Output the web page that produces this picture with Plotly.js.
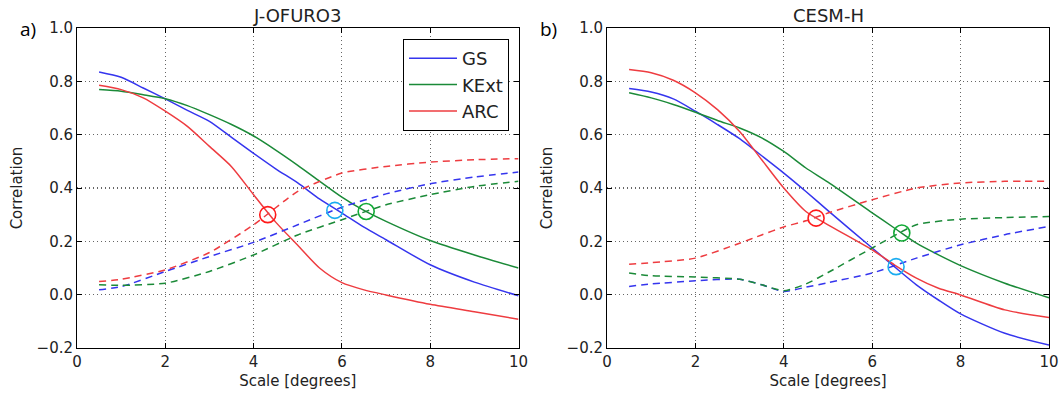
<!DOCTYPE html>
<html><head><meta charset="utf-8">
<script src="https://cdn.plot.ly/plotly-3.0.1.min.js"></script>
<style>html,body{margin:0;padding:0;background:#fff}#chart{width:1063px;height:393px}</style>
</head><body><div id="chart"></div>
<script>
// ---- Panel a) J-OFURO3 ----
const xA_solid = [0.5,1,1.5,2,2.5,3,3.5,4,4.5,5,5.5,6,6.5,7,8,9,10];
const gsA_solid = [0.835,0.815,0.775,0.734,0.691,0.65,0.59,0.53,0.472,0.419,0.358,0.306,0.253,0.206,0.112,0.047,-0.004];
const kextA_solid = [0.769,0.763,0.75,0.735,0.709,0.675,0.638,0.595,0.542,0.485,0.425,0.366,0.316,0.275,0.203,0.149,0.10];
const arcA_solid = [0.785,0.769,0.738,0.688,0.631,0.556,0.48,0.375,0.272,0.185,0.099,0.045,0.018,-0.001,-0.036,-0.064,-0.092];

const xA_dash = [0.5,1,2,3,4,5,6,7,8,9,10];
const gsA_dash = [0.018,0.03,0.087,0.143,0.196,0.262,0.328,0.378,0.416,0.441,0.46];
const kextA_dash = [0.037,0.035,0.043,0.087,0.149,0.224,0.281,0.337,0.375,0.406,0.425];
const arcA_dash = [0.049,0.058,0.093,0.158,0.262,0.387,0.456,0.481,0.497,0.506,0.51];

const circA_x = [4.32,5.84,6.55];
const circA_y = [0.30,0.316,0.312];

// ---- Panel b) CESM-H ----
const xB_solid = [0.5,1,1.5,2,2.5,3,3.5,4,4.5,5,6,6.5,7,7.5,8,9,10];
const gsB_solid = [0.773,0.76,0.734,0.688,0.638,0.585,0.521,0.456,0.387,0.315,0.175,0.105,0.037,-0.02,-0.072,-0.145,-0.189];
const kextB_solid = [0.757,0.738,0.713,0.684,0.653,0.625,0.588,0.537,0.475,0.422,0.307,0.25,0.193,0.149,0.109,0.043,-0.012];
const arcB_solid = [0.844,0.832,0.804,0.757,0.694,0.612,0.506,0.40,0.312,0.262,0.168,0.112,0.062,0.024,-0.001,-0.057,-0.086];

const xB_dash = [0.5,1,2,3,3.5,4,4.5,5,6,7,8,9,10];
const gsB_dash = [0.031,0.04,0.052,0.058,0.037,0.012,0.028,0.045,0.081,0.137,0.187,0.225,0.256];
const kextB_dash = [0.081,0.071,0.066,0.058,0.037,0.015,0.04,0.083,0.175,0.262,0.283,0.289,0.293];
const arcB_dash = [0.114,0.12,0.137,0.193,0.224,0.254,0.277,0.306,0.356,0.40,0.419,0.425,0.425];

const circB_x = [4.73,6.54,6.67];
const circB_y = [0.287,0.105,0.231];

const seriesNames = ['GS','KExt','ARC'];
const seriesColors = ['#3535ee','#1b8a38','#ee3c40'];
const circleColors = ['#ff1a1a','#1aacf0','#12aa36'];

const panels = [
  {xa:'x', ya:'y', xs:xA_solid, ys:[gsA_solid,kextA_solid,arcA_solid], xd:xA_dash, yd:[gsA_dash,kextA_dash,arcA_dash], cx:circA_x, cy:circA_y},
  {xa:'x2', ya:'y2', xs:xB_solid, ys:[gsB_solid,kextB_solid,arcB_solid], xd:xB_dash, yd:[gsB_dash,kextB_dash,arcB_dash], cx:circB_x, cy:circB_y}
];

const traces = [];
panels.forEach((p, pi) => {
  for (let i = 0; i < 3; i++) {
    traces.push({x:p.xs, y:p.ys[i], xaxis:p.xa, yaxis:p.ya, mode:'lines', name:seriesNames[i],
      legendgroup:seriesNames[i], showlegend: pi === 0,
      line:{color:seriesColors[i], width:1.5, shape:'spline', smoothing:0.7}, hoverinfo:'skip'});
  }
  for (let i = 0; i < 3; i++) {
    traces.push({x:p.xd, y:p.yd[i], xaxis:p.xa, yaxis:p.ya, mode:'lines', name:seriesNames[i],
      legendgroup:seriesNames[i], showlegend:false,
      line:{color:seriesColors[i], width:1.5, dash:'7px,5px', shape:'spline', smoothing:0.6}, hoverinfo:'skip'});
  }
  traces.push({x:p.cx, y:p.cy, xaxis:p.xa, yaxis:p.ya, mode:'markers', showlegend:false,
    marker:{symbol:'circle-open', size:16, color:[circleColors[0],circleColors[1],circleColors[2]], line:{width:1.6}}, hoverinfo:'skip'});
});

const FONT = 'DejaVu Sans, sans-serif';
function xax(domain){
  return {domain:domain, range:[0,10], dtick:2, tick0:0, showline:true, linecolor:'#000', linewidth:1,
    mirror:'ticks', ticks:'inside', ticklen:5, tickcolor:'#000', showgrid:true, gridcolor:'#666',
    griddash:'1px,3px', gridwidth:1.2, zeroline:false, tickfont:{family:FONT, size:15, color:'#222'},
    title:{text:'Scale [degrees]', font:{family:FONT, size:15, color:'#222'}, standoff:5}, fixedrange:true};
}
function yax(anchor){
  return {anchor:anchor, range:[-0.2,1.0], dtick:0.2, tick0:0, tickformat:'.1f', showline:true, linecolor:'#000',
    linewidth:1, mirror:'ticks', ticks:'inside', ticklen:5, tickcolor:'#000', showgrid:true, gridcolor:'#666',
    griddash:'1px,3px', gridwidth:1.2, zeroline:false, tickfont:{family:FONT, size:15, color:'#222'},
    title:{text:'Correlation', font:{family:FONT, size:15, color:'#222'}, standoff:10}, fixedrange:true};
}

const W = 1063, T = 28, B = 45, H = 393;
const ph = H - T - B;
function py(pix){ return (H - B - pix) / ph; }

const layout = {
  width:W, height:H, margin:{l:0, r:0, t:T, b:B}, paper_bgcolor:'#fff', plot_bgcolor:'#fff',
  font:{family:FONT, color:'#222'},
  xaxis: Object.assign(xax([77/W, 518.5/W]), {anchor:'y'}),
  yaxis: yax('x'),
  xaxis2: Object.assign(xax([607/W, 1049/W]), {anchor:'y2'}),
  yaxis2: yax('x2'),
  showlegend:true,
  legend:{x:509/W, xanchor:'right', y:py(39), yanchor:'top', bgcolor:'#fff', bordercolor:'#000', borderwidth:1,
    font:{family:FONT, size:18, color:'#222'}, tracegroupgap:0, traceorder:'grouped', itemwidth:48},
  annotations:[
    {text:'J-OFURO3', xref:'paper', yref:'paper', x:(77+518.5)/2/W, y:py(16), xanchor:'center', yanchor:'middle', showarrow:false, font:{family:FONT, size:18, color:'#222'}},
    {text:'CESM-H', xref:'paper', yref:'paper', x:(607+1049)/2/W, y:py(16), xanchor:'center', yanchor:'middle', showarrow:false, font:{family:FONT, size:18, color:'#222'}},
    {text:'a)', xref:'paper', yref:'paper', x:28/W, y:py(29), xanchor:'center', yanchor:'middle', showarrow:false, font:{family:'Open Sans, sans-serif', size:19, color:'#000'}},
    {text:'b)', xref:'paper', yref:'paper', x:548/W, y:py(29), xanchor:'center', yanchor:'middle', showarrow:false, font:{family:'Open Sans, sans-serif', size:19, color:'#000'}}
  ]
};

Plotly.newPlot('chart', traces, layout, {displayModeBar:false, staticPlot:true});
</script>
</body></html>
